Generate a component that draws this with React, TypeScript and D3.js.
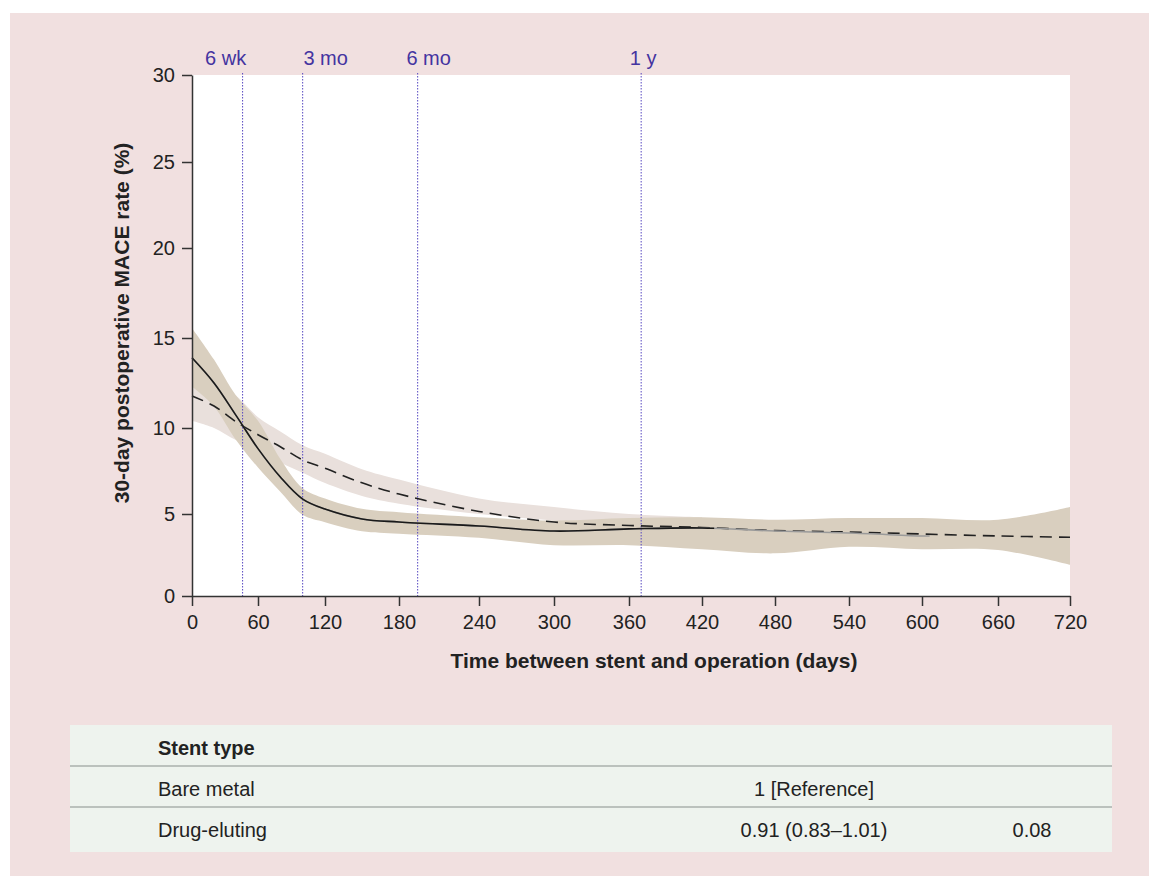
import React, { useEffect, useRef } from "react";
import * as d3 from "d3";

// sample days along the curves
const days = [0, 20, 40, 60, 80, 100, 120, 150, 180, 240, 300, 360, 420, 480, 540, 600, 660, 720];

// dashed curve + its lighter confidence band
const dashedRate = [11.78, 11.22, 10.34, 9.61, 8.91, 8.14, 7.66, 6.81, 6.16, 5.15, 4.51, 4.3, 4.18, 3.99, 3.9, 3.78, 3.66, 3.58];
const dashedBandDays = [0, 20, 40, 60, 80, 100, 120, 150, 180, 240, 300, 360, 420];
const dashedUpper = [13.1, 12.6, 11.8, 10.6, 9.8, 9.0, 8.5, 7.6, 7.0, 5.9, 5.4, 5.0, 4.8];
const dashedLower = [10.4, 10.0, 9.3, 8.8, 8.0, 7.4, 6.8, 6.05, 5.6, 5.0, 4.6, 4.3, 4.15];

// solid curve + its darker confidence band
const solidDays = [0, 20, 40, 60, 80, 100, 120, 150, 180, 240, 300, 360, 420, 480, 540, 600, 606];
const solidRate = [13.9, 12.5, 10.7, 8.8, 7.15, 5.87, 5.29, 4.7, 4.51, 4.27, 3.96, 4.09, 4.15, 3.96, 3.84, 3.66, 3.66];
const solidUpper = [15.56, 13.8, 11.8, 10.4, 8.2, 6.5, 5.9, 5.3, 5.1, 4.8, 4.6, 4.75, 4.8, 4.65, 4.75, 4.75, 4.65, 5.4];
const solidLower = [12.3, 11.2, 9.3, 7.7, 6.3, 4.95, 4.5, 3.95, 3.8, 3.55, 3.1, 3.1, 2.85, 2.6, 3.0, 2.85, 2.8, 1.9];
const solidBlackUntil = 430; // past this the line shows grey

const xTicks = [0, 60, 120, 180, 240, 300, 360, 420, 480, 540, 600, 660, 720];
const yTicks = [0, 5, 10, 15, 20, 25, 30];

const markerDays = [46, 100, 194, 370];
const markerLabels = ["6 wk", "3 mo", "6 mo", "1 y"];

const tableHeader = "Stent type";
const stentTypes = ["Bare metal", "Drug-eluting"];
const hazardRatios = ["1 [Reference]", "0.91 (0.83–1.01)"];
const pValues = ["", "0.08"];

// layout
const W = 1159;
const H = 876;
const xTickPos = [192, 258, 325, 399, 479, 554, 629, 702, 775, 849, 922, 998, 1070];
const yTickPos = [596, 514, 428, 338, 248, 162, 75];
const markerLabelShift = [-17, 23, 11, 2];
const font = "'Liberation Sans', Arial, Helvetica, sans-serif";

export default function App() {
  const ref = useRef<SVGSVGElement>(null);

  useEffect(() => {
    const svg = d3.select(ref.current);
    svg.selectAll("*").remove();
    svg.attr("width", W).attr("height", H).style("font-family", font);

    svg.append("rect")
      .attr("x", 10).attr("y", 13)
      .attr("width", W - 20).attr("height", H - 13)
      .attr("fill", "#f1e0e0");

    const x = d3.scaleLinear().domain(xTicks).range(xTickPos);
    const y = d3.scaleLinear().domain(yTicks).range(yTickPos);

    svg.append("rect")
      .attr("x", x(0)).attr("y", y(30))
      .attr("width", x(720) - x(0)).attr("height", y(0) - y(30))
      .attr("fill", "#fff");

    const curve = d3.curveCatmullRom.alpha(0.5);

    const dashedBand = d3.area<number>()
      .x((d, i) => x(dashedBandDays[i]))
      .y0((d, i) => y(dashedLower[i]))
      .y1(d => y(d))
      .curve(curve);
    svg.append("path").attr("d", dashedBand(dashedUpper)).attr("fill", "#e9e0dc");

    const solidBand = d3.area<number>()
      .x((d, i) => x(days[i]))
      .y0((d, i) => y(solidLower[i]))
      .y1(d => y(d))
      .curve(curve);
    svg.append("path").attr("d", solidBand(solidUpper)).attr("fill", "#d9cfbf");

    // time markers
    markerDays.forEach((d, i) => {
      svg.append("line")
        .attr("x1", x(d)).attr("x2", x(d))
        .attr("y1", y(30) - 2).attr("y2", y(0))
        .attr("stroke", "#5546c0")
        .attr("stroke-width", 1)
        .attr("stroke-dasharray", "1.5,1.5");
      svg.append("text")
        .attr("x", x(d) + markerLabelShift[i])
        .attr("y", 65)
        .attr("text-anchor", "middle")
        .attr("font-size", 20)
        .attr("fill", "#4434a0")
        .text(markerLabels[i]);
    });

    const dashedLine = d3.line<number>()
      .x((d, i) => x(days[i]))
      .y(d => y(d))
      .curve(curve);
    svg.append("path")
      .attr("d", dashedLine(dashedRate))
      .attr("fill", "none")
      .attr("stroke", "#222")
      .attr("stroke-width", 1.6)
      .attr("stroke-dasharray", "12,7");

    const solidLine = d3.line<number>()
      .x((d, i) => x(solidDays[i]))
      .y(d => y(d))
      .curve(curve);
    svg.append("path")
      .attr("d", solidLine(solidRate))
      .attr("fill", "none")
      .attr("stroke", "#9a9a9a")
      .attr("stroke-width", 1.6);

    svg.append("clipPath").attr("id", "solid-black")
      .append("rect")
      .attr("x", 0).attr("y", 0)
      .attr("width", x(solidBlackUntil)).attr("height", H);
    svg.append("path")
      .attr("d", solidLine(solidRate))
      .attr("clip-path", "url(#solid-black)")
      .attr("fill", "none")
      .attr("stroke", "#1a1a1a")
      .attr("stroke-width", 1.6);

    // axes
    const yAxis = svg.append("g")
      .attr("transform", `translate(${x(0)},0)`)
      .call(d3.axisLeft(y).tickValues(yTicks).tickSize(10).tickSizeOuter(0).tickPadding(7));
    const xAxis = svg.append("g")
      .attr("transform", `translate(0,${y(0)})`)
      .call(d3.axisBottom(x).tickValues(xTicks).tickSize(10).tickSizeOuter(0).tickPadding(9));
    [yAxis, xAxis].forEach(g => {
      g.attr("font-size", 20).attr("font-family", font);
      g.selectAll("line, path").attr("stroke", "#333").attr("stroke-width", 1.5);
      g.selectAll("text").attr("fill", "#222");
    });

    svg.append("text")
      .attr("x", 654).attr("y", 668)
      .attr("text-anchor", "middle")
      .attr("font-size", 21).attr("font-weight", "bold")
      .attr("fill", "#222")
      .text("Time between stent and operation (days)");

    svg.append("text")
      .attr("transform", "translate(129,323) rotate(-90)")
      .attr("text-anchor", "middle")
      .attr("font-size", 21).attr("font-weight", "bold")
      .attr("fill", "#222")
      .text("30-day postoperative MACE rate (%)");

    // table under the chart
    svg.append("rect")
      .attr("x", 70).attr("y", 725)
      .attr("width", 1042).attr("height", 127)
      .attr("fill", "#eef3ee");
    [766, 807].forEach(ly => {
      svg.append("line")
        .attr("x1", 70).attr("x2", 1112)
        .attr("y1", ly).attr("y2", ly)
        .attr("stroke", "#aab0ac").attr("stroke-width", 1.5);
    });
    svg.append("text")
      .attr("x", 158).attr("y", 755)
      .attr("font-size", 20).attr("font-weight", "bold").attr("fill", "#222")
      .text(tableHeader);
    stentTypes.forEach((t, i) => {
      const by = 796 + i * 41;
      svg.append("text").attr("x", 158).attr("y", by)
        .attr("font-size", 20).attr("fill", "#222").text(t);
      svg.append("text").attr("x", 814).attr("y", by)
        .attr("text-anchor", "middle")
        .attr("font-size", 20).attr("fill", "#222").text(hazardRatios[i]);
      svg.append("text").attr("x", 1032).attr("y", by)
        .attr("text-anchor", "middle")
        .attr("font-size", 20).attr("fill", "#222").text(pValues[i]);
    });
  }, []);

  return (
    <svg ref={ref} style={{ position: "absolute", left: 0, top: 0 }}></svg>
  );
}
